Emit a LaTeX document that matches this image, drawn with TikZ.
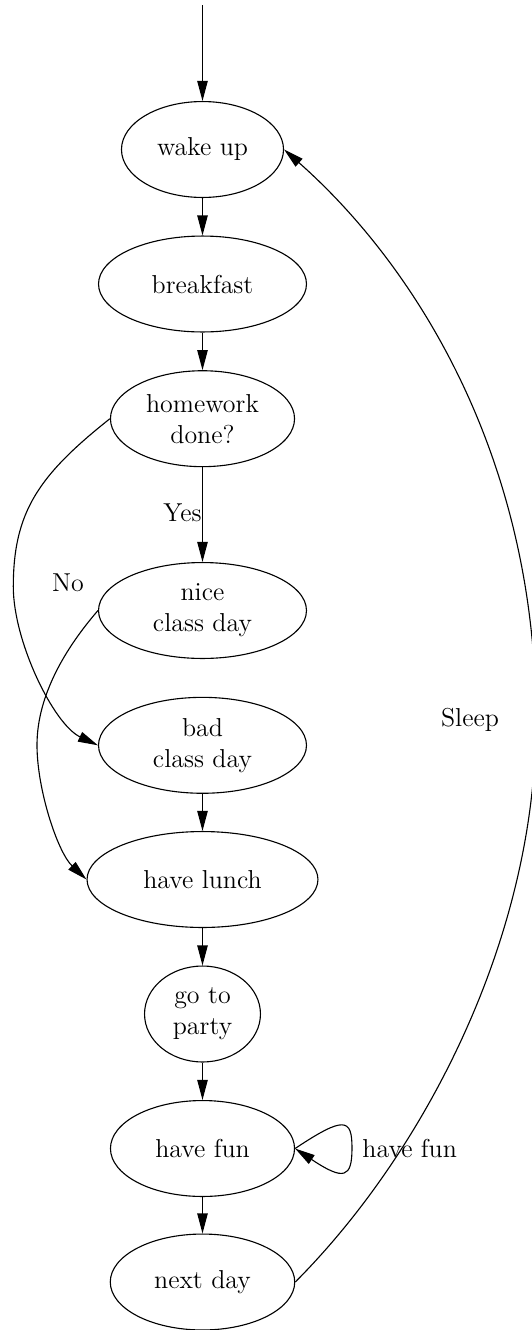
\documentclass[tikz,border=0pt]{standalone}
\usetikzlibrary{shapes.geometric,arrows.meta}
\begin{document}
\begin{tikzpicture}[x=0.54pt,y=-0.54pt,
  st/.style={draw, ellipse, inner sep=0pt, align=center, line width=0.6pt,
    minimum height=51.8pt, font=\fontsize{14}{16.8}\selectfont},
  lbl/.style={inner sep=0pt, font=\fontsize{14}{16.8}\selectfont},
  arr/.style={line width=0.6pt, -{Triangle[length=10.8pt,width=5.6pt]}}]
\useasboundingbox (0,0) rectangle (531,1330);
\node[st, minimum width=87.5pt]  (wake)  at (202.5,149.5) {wake up};
\node[st, minimum width=112.3pt] (bf)    at (202.5,284)   {breakfast};
\node[st, minimum width=99.4pt]  (hw)    at (202.5,418.7) {homework\\done?};
\node[st, minimum width=112.3pt] (nice)  at (202.5,610.5) {nice\\class day};
\node[st, minimum width=112.3pt] (bad)   at (202.5,745.3) {bad\\class day};
\node[st, minimum width=124.7pt] (lunch) at (202.5,879.5) {have lunch};
\node[st, minimum width=62.6pt]  (party) at (202.5,1014)  {go to\\party};
\node[st, minimum width=99.4pt]  (fun)   at (202.5,1148.5){have fun};
\node[st, minimum width=99.6pt]  (next)  at (202.5,1282)  {next day};
\coordinate (start) at (202.5,5);
\node[lbl] (yes)   at (182.5,513)  {Yes};
\node[lbl] (no)    at (68,583)     {No};
\node[lbl] (sleep) at (470,720)    {Sleep};
\node[lbl] (funl)  at (409.7,1148) {have fun};
\draw[arr] (start) -- (wake);
\draw[arr] (wake) -- (bf);
\draw[arr] (bf) -- (hw);
\draw[arr] (hw) -- (nice);
\draw[arr] (bad) -- (lunch);
\draw[arr] (lunch) -- (party);
\draw[arr] (party) -- (fun);
\draw[arr] (fun) -- (next);
\draw[arr] (hw.west) .. controls (38.9,475.1) and (13.3,511.7) .. (13.3,586.7)
  .. controls (13.3,641.7) and (53.8,724.5) .. (bad.west);
\draw[arr] (nice.west) .. controls (66,647.5) and (37,695) .. (37,745)
  .. controls (37,790) and (57.8,852.4) .. (lunch.west);
\draw[arr] (fun.east) .. controls (344,1116) and (352,1118) .. (352,1148)
  .. controls (352,1178) and (344,1181) .. (fun.east);
\draw[arr] (next.east) .. controls (422.3,1154.7) and (536,940) .. (536,720)
  .. controls (536,460) and (418,268) .. (wake.east);
\end{tikzpicture}
\end{document}
